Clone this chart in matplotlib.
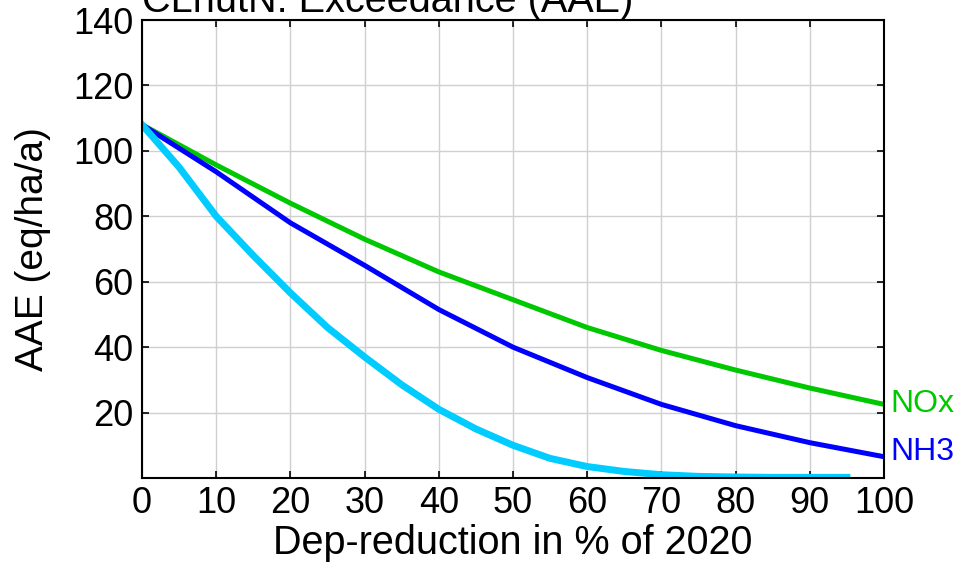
import numpy as np
import matplotlib.pyplot as plt

plt.rcParams['font.family'] = ['Liberation Sans', 'DejaVu Sans']

# Reduction steps (% of 2020 deposition)
x_main = [0, 10, 20, 30, 40, 50, 60, 70, 80, 90, 100]
nox = [108, 95.7, 84, 73, 63, 54.5, 46, 39, 33, 27.5, 22.5]
nh3 = [108, 93.6, 78, 65, 51.5, 40, 30.7, 22.5, 16, 10.8, 6.5]

x_tot = [0, 5, 10, 15, 20, 25, 30, 35, 40, 45, 50, 55, 60, 65, 70, 75, 80, 85, 90, 95]
tot = [108, 95, 80, 68, 56.6, 46, 37, 28.5, 21, 15, 10, 6, 3.5, 2, 1, 0.5, 0.3, 0.2, 0.2, 0.2]

fig = plt.figure(figsize=(9.63, 5.66), dpi=100)
ax = fig.add_axes([142/963, 1 - 478/566, 742/963, 458/566])

ax.plot(x_main, nox, color='#00c800', linewidth=3.6)
ax.plot(x_main, nh3, color='#0000ff', linewidth=3.6)
ax.plot(x_tot, tot, color='#00ccff', linewidth=5)

ax.set_xlim(0, 100)
ax.set_ylim(0, 140)
ax.set_xticks(np.arange(0, 101, 10))
ax.set_yticks(np.arange(20, 141, 20))
ax.grid(True, color='#d0d0d0', linewidth=1)
ax.tick_params(direction='in', top=True, right=True, labelsize=26, length=5,
               width=1.2, pad=6)
for lab in ax.get_xticklabels() + ax.get_yticklabels():
    lab.set_fontweight('medium')
for s in ax.spines.values():
    s.set_linewidth(1.5)

ax.text(100.8, 22.5, 'NOx', color='#00c800', fontsize=23, va='center', ha='left')
ax.text(100.8, 8, 'NH3', color='#0000ff', fontsize=23, va='center', ha='left')

ax.set_xlabel('Dep-reduction in % of 2020', fontsize=28.5, labelpad=2)
ax.set_ylabel('AAE (eq/ha/a)', fontsize=28, labelpad=16)
ax.text(0, 1.0, 'CLnutN: Exceedance (AAE)', transform=ax.transAxes, fontsize=28.5,
        ha='left', va='bottom')

fig.savefig('out.png', dpi=100)
